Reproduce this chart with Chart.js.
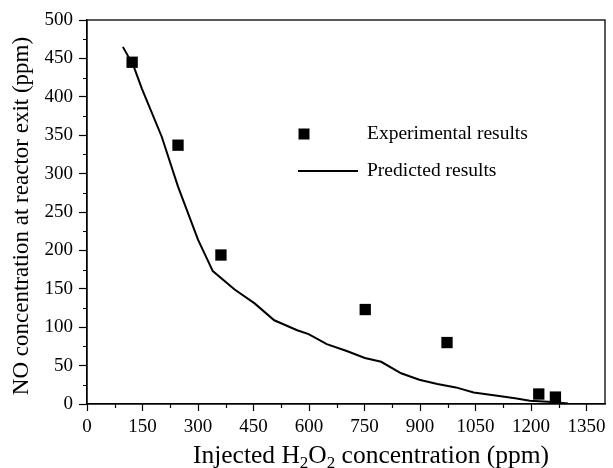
<!DOCTYPE html>
<html>
<head>
<meta charset="utf-8">
<script src="https://cdn.jsdelivr.net/npm/chart.js@4"></script>
<style>
  html, body { margin: 0; padding: 0; background: #fff; }
  #wrap { width: 613px; height: 468px; position: relative; }
</style>
</head>
<body>
<div id="wrap"><canvas id="chart"></canvas></div>
<script>
// experimental points (square markers)
const expX = [122, 246, 362, 752, 973, 1221, 1266];
const expY = [445, 337, 194, 123, 80, 13, 9];

// predicted curve
const predX = [97, 126, 148, 202, 246, 300, 340, 399, 453, 506, 568, 599, 648, 702, 751, 795, 849, 898, 947, 997, 1045, 1104, 1157, 1197, 1246, 1300];
const predY = [465, 440, 411, 348, 283, 214, 173, 149, 131, 109, 96, 91, 78, 69, 60, 55, 40, 31.5, 26, 21.6, 15, 11, 7.4, 4.3, 3, 0.5];

const xTicks = [0, 150, 300, 450, 600, 750, 900, 1050, 1200, 1350];
const yTicks = [0, 50, 100, 150, 200, 250, 300, 350, 400, 450, 500];

const legendLabels = ['Experimental results', 'Predicted results'];
const yTitle = 'NO concentration at reactor exit (ppm)';

const FONT = '"Liberation Serif", "Times New Roman", serif';

// frame, minor ticks, axis titles and legend
const decor = {
  id: 'decor',
  afterDraw(chart) {
    const { ctx, chartArea: a, scales: { x, y } } = chart;
    ctx.save();
    ctx.strokeStyle = '#000';
    ctx.lineWidth = 1.3;
    ctx.strokeRect(a.left, a.top, a.right - a.left, a.bottom - a.top);

    // minor ticks
    ctx.lineWidth = 1.2;
    ctx.beginPath();
    for (let v = 75; v < 1400; v += 150) {
      const px = Math.round(x.getPixelForValue(v)) + 0.5;
      ctx.moveTo(px, a.bottom);
      ctx.lineTo(px, a.bottom + 4);
    }
    for (let v = 25; v < 500; v += 50) {
      const py = Math.round(y.getPixelForValue(v)) + 0.5;
      ctx.moveTo(a.left, py);
      ctx.lineTo(a.left - 4, py);
    }
    ctx.stroke();

    ctx.fillStyle = '#000';
    // y title
    ctx.save();
    ctx.translate(22, 216);
    ctx.rotate(-Math.PI / 2);
    ctx.font = '23px ' + FONT;
    ctx.textAlign = 'center';
    ctx.textBaseline = 'middle';
    ctx.fillText(yTitle, 0, 0);
    ctx.restore();

    // x title with subscripts
    const parts = [['Injected H', 0], ['2', 1], ['O', 0], ['2', 1], [' concentration (ppm)', 0]];
    const big = '25.5px ' + FONT, small = '17px ' + FONT;
    let w = 0;
    parts.forEach(p => { ctx.font = p[1] ? small : big; w += ctx.measureText(p[0]).width; });
    let cx = 371 - w / 2;
    const base = 463;
    ctx.textAlign = 'left';
    ctx.textBaseline = 'alphabetic';
    parts.forEach(p => {
      ctx.font = p[1] ? small : big;
      ctx.fillText(p[0], cx, base + (p[1] ? 5 : 0));
      cx += ctx.measureText(p[0]).width;
    });

    // legend
    ctx.fillRect(304 - 5.5, 134 - 5.5, 11, 11);
    ctx.lineWidth = 2;
    ctx.beginPath();
    ctx.moveTo(298, 171);
    ctx.lineTo(358, 171);
    ctx.stroke();
    ctx.font = '19.5px ' + FONT;
    ctx.textBaseline = 'middle';
    ctx.fillText(legendLabels[0], 367, 134);
    ctx.fillText(legendLabels[1], 367, 171);
    ctx.restore();
  }
};

new Chart(document.getElementById('chart'), {
  type: 'scatter',
  data: {
    datasets: [
      {
        label: legendLabels[1],
        data: predX.map((v, i) => ({ x: v, y: predY[i] })),
        showLine: true,
        borderColor: '#000',
        borderWidth: 2,
        pointRadius: 0,
        tension: 0,
        order: 2
      },
      {
        label: legendLabels[0],
        data: expX.map((v, i) => ({ x: v, y: expY[i] })),
        pointStyle: 'rect',
        pointRadius: 8,
        backgroundColor: '#000',
        borderColor: '#000',
        borderWidth: 0,
        order: 1
      }
    ]
  },
  options: {
    responsive: true,
    maintainAspectRatio: false,
    animation: false,
    layout: { padding: { top: 20, right: 3, left: 0, bottom: 0 } },
    plugins: { legend: { display: false }, tooltip: { enabled: false } },
    scales: {
      x: {
        type: 'linear',
        min: 0,
        max: 1400,
        afterBuildTicks: s => { s.ticks = xTicks.map(v => ({ value: v })); },
        afterFit: s => { s.height = 64; },
        border: { display: true, color: '#000', width: 1.3 },
        grid: { drawOnChartArea: false, tickLength: 7, color: '#000', tickColor: '#000', tickWidth: 1.2 },
        ticks: { color: '#000', font: { family: FONT, size: 19 }, padding: 5, maxRotation: 0, autoSkip: false, callback: v => String(v) }
      },
      y: {
        type: 'linear',
        min: 0,
        max: 500,
        afterBuildTicks: s => { s.ticks = yTicks.map(v => ({ value: v })); },
        afterFit: s => { s.width = 87; },
        border: { display: true, color: '#000', width: 1.3 },
        grid: { drawOnChartArea: false, tickLength: 8, color: '#000', tickColor: '#000', tickWidth: 1.2 },
        ticks: { color: '#000', font: { family: FONT, size: 19 }, padding: 6, autoSkip: false, callback: v => String(v) }
      }
    }
  },
  plugins: [decor]
});
</script>
</body>
</html>
